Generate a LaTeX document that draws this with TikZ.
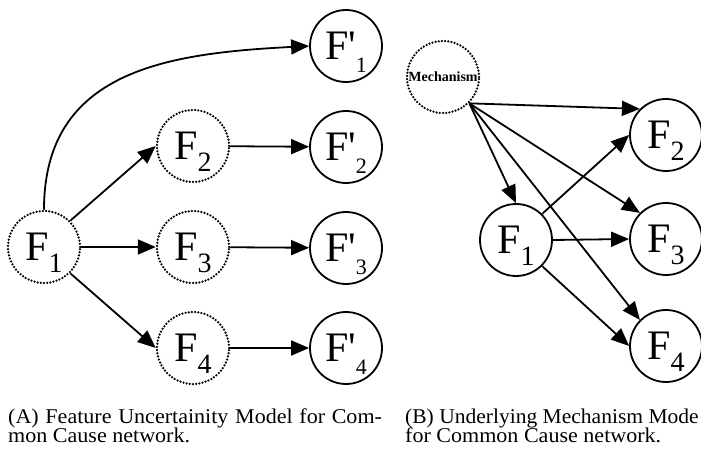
\documentclass[tikz,border=0pt]{standalone}
\usepackage{fontspec}
\setmainfont{Liberation Serif}
\usetikzlibrary{arrows.meta}

\newcommand{\fsub}[1]{F\raisebox{-12pt}[0pt][0pt]{\fontsize{28}{28}\selectfont #1}}
\newcommand{\fprime}[1]{F\textquotesingle\raisebox{-13pt}[0pt][0pt]{\fontsize{22}{22}\selectfont #1}}
\newcommand{\captext}[2][1.05]{\scalebox{#1}[1]{\fontsize{21}{24}\selectfont #2}}

\tikzset{
	var/.style={circle, minimum size=72pt, inner sep=0pt, line width=1.8pt, font=\fontsize{42}{42}\selectfont},
	latent/.style={var, draw, dash pattern=on 0pt off 3.2pt, line cap=round, line width=2.5pt},
	observed/.style={var, draw},
	link/.style={line width=1.8pt, -{Triangle[length=18pt,width=15pt]}},
	capt/.style={anchor=base west, inner sep=0pt}
}

\begin{document}
\begin{tikzpicture}[x=1pt, y=1pt]
	\useasboundingbox (0, 0) rectangle (701, 453);

	\node[latent] (f1) at (44, 206) {\fsub{1}};
	\node[latent] (f2) at (193, 307) {\fsub{2}};
	\node[latent] (f3) at (193, 206) {\fsub{3}};
	\node[latent] (f4) at (193, 105) {\fsub{4}};

	\node[observed] (fp1) at (346, 407) {\fprime{1}};
	\node[observed] (fp2) at (346, 306) {\fprime{2}};
	\node[observed] (fp3) at (346, 205) {\fprime{3}};
	\node[observed] (fp4) at (346, 105) {\fprime{4}};

	\node[latent, font=\bfseries\fontsize{14}{14}\selectfont] (mech) at (443, 376) {Mechanism};
	\node[observed] (rf1) at (516, 213) {\fsub{1}};
	\node[observed] (rf2) at (666, 318) {\fsub{2}};
	\node[observed] (rf3) at (666, 214) {\fsub{3}};
	\node[observed] (rf4) at (666, 107) {\fsub{4}};

	\draw[link] (f1.north) to[out=90, in=183, looseness=1.15] (fp1.west);
	\draw[link] (f1.45) -- (f2.west);
	\draw[link] (f1) -- (f3);
	\draw[link] (f1.-45) -- (f4.west);
	\draw[link] (f2) -- (fp2);
	\draw[link] (f3) -- (fp3);
	\draw[link] (f4) -- (fp4);

	\draw[link] (mech.-45) -- (rf1.north);
	\draw[link] (mech.-45) -- (rf2.135);
	\draw[link] (mech.-45) -- (rf3.135);
	\draw[link] (mech.-45) -- (rf4.135);
	\draw[link] (rf1.45) -- (rf2.west);
	\draw[link] (rf1.east) -- (rf3.west);
	\draw[link] (rf1.-45) -- (rf4.west);

	\node[capt] (capa1) at (8, 30) {\captext{\makebox[356pt][s]{(A) Feature Uncertainity Model for Com-}}};
	\node[capt] (capa2) at (8, 11) {\captext{mon Cause network.}};
	\node[capt] (capb1) at (405, 30) {\captext[1.025]{(B) Underlying Mechanism Mode}};
	\node[capt] (capb2) at (405, 11) {\captext{for Common Cause network.}};

\end{tikzpicture}
\end{document}
